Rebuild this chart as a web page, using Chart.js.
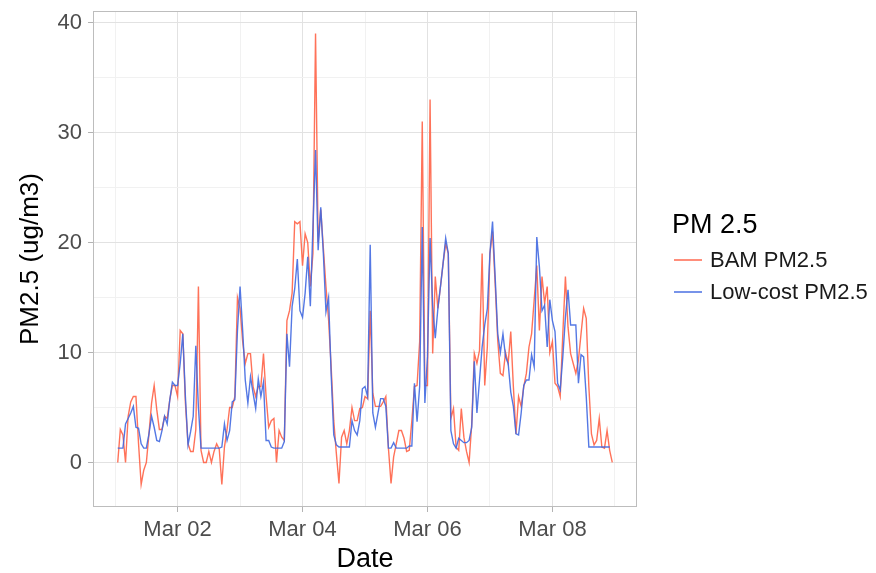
<!DOCTYPE html>
<html>
<head>
<meta charset="utf-8">
<script src="https://cdn.jsdelivr.net/npm/chart.js@4.4.1/dist/chart.umd.min.js"></script>
<style>
  html, body { margin: 0; padding: 0; background: #fff; }
  canvas { display: block; }
</style>
</head>
<body>
<canvas id="chart" width="876" height="573"></canvas>
<script>
// hourly readings, first one at Mar 01 01:00 (x = hours since Mar 01 00:00)
const firstHour = 1

const bamPM25 = [
  0, 3, 2.5, 0, 4.2, 5.5, 6, 6, 1.7, -2,
  -0.7, 0, 2.6, 5.4, 7, 4.8, 3, 3, 4.2, 4,
  5.7, 7, 7, 6, 12, 11.7, 5.4, 1.7, 1, 1,
  3, 16, 1.1, 0, 0, 1, 0, 1, 1.7, 1.2,
  -2, 1.4, 3, 5, 5, 6, 15, 14, 11, 9,
  9.9, 9.9, 6.9, 6, 6.9, 6.9, 9.9, 6, 3.2, 3.8,
  4, 0, 2.9, 2.3, 2, 12.9, 13.8, 15.4, 21.9, 21.7,
  21.9, 17.9, 20.8, 20, 16, 19, 39, 20, 23, 19.5,
  16, 13, 8.7, 3.8, 0.8, -1.9, 2.3, 2.9, 1.7, 2.9,
  5, 3.8, 3.8, 4.9, 5, 6, 5.8, 13.8, 6.3, 5.1,
  5.1, 5.1, 5.5, 6, 1.3, -1.9, 0.5, 1.7, 2.9, 2.9,
  2.2, 1, 1.1, 3.8, 6.9, 7, 11, 31, 7, 7,
  33, 9.9, 16.9, 14, 16, 18.1, 19.9, 19, 4, 4.9,
  1.4, 1.1, 4.9, 2.3, 1, 0, 3.5, 9.9, 9, 10.2,
  19, 7, 10.5, 19, 21, 16.3, 11.1, 8.1, 7.9, 10,
  9, 11.9, 6.9, 2.6, 6, 5.1, 6.9, 8.1, 10.5, 11.7,
  14.8, 17.9, 12, 16.9, 14.5, 16, 10, 11, 7.2, 6.9,
  6, 11.7, 16.9, 12.3, 9.9, 9, 8.1, 9.3, 11.7, 14,
  13.1, 6.9, 2.6, 1.6, 2, 4, 1.4, 1.3, 2.9, 1.1, 0
]

const lowCostPM25 = [
  1.3, 1.3, 1.3, 3.5, 4, 4.5, 5.1, 3.2, 3.1, 1.7,
  1.3, 1.3, 2.6, 4.2, 3.2, 2, 1.9, 2.9, 4.2, 3.5,
  5.7, 7.3, 7, 7, 9, 11.7, 6, 1.6, 2.8, 4.2,
  10.6, 5, 1.3, 1.3, 1.3, 1.3, 1.3, 1.3, 1.3, 1.3,
  1.4, 3.5, 2, 2.9, 5.5, 5.7, 12, 16, 12, 7.5,
  5.4, 7.8, 6.3, 4.9, 7.6, 6, 7.3, 2, 2, 1.4,
  1.3, 1.3, 1.3, 1.3, 1.9, 11.7, 8.7, 14.2, 15.8, 18.5,
  13.8, 13.2, 15.4, 18.7, 14.2, 21.4, 28.4, 19.3, 23.2, 19,
  13.7, 15, 8, 2.5, 1.6, 1.4, 1.4, 1.4, 1.4, 1.4,
  3.8, 2.9, 2.5, 3.8, 6.7, 6.9, 6, 19.8, 4.5, 3.2,
  4.5, 5.8, 5.8, 5.1, 1.3, 1.3, 1.8, 1.3, 1.3, 1.3,
  1.3, 1.3, 1.5, 1.5, 7.2, 3.7, 6.9, 21.4, 5.4, 9.6,
  20.4, 14.2, 11.3, 14, 16, 18.1, 20.4, 19, 2.9, 1.7,
  1.3, 2.2, 2, 1.8, 1.8, 2, 3.2, 9.2, 4.5, 7.5,
  10.5, 12.5, 14, 19, 21.9, 16.9, 11.7, 10, 11.7, 9.6,
  9, 6.4, 5.1, 2.6, 2.5, 4.5, 7, 7.5, 7.5, 9.8,
  8.7, 20.5, 17.8, 13.8, 14.3, 10.5, 14.8, 12.9, 11.9, 7.2,
  6.6, 9.6, 13.2, 15.7, 12.5, 12.5, 12.5, 7.2, 9.8, 9.6,
  6, 1.4, 1.4, 1.4, 1.4, 1.4, 1.4, 1.4, 1.4, 1.4
]

const seriesNames = ['BAM PM2.5', 'Low-cost PM2.5']
const seriesColors = ['rgba(255,99,71,0.9)', 'rgba(65,105,225,0.9)']
const legendTitle = 'PM 2.5'

// x grid: a line every day, labels on every second day
const dayHours = [0, 24, 48, 72, 96, 120, 144, 168, 192]
const dateTickHours = [24, 72, 120, 168]
const dateTickLabels = ['Mar 02', 'Mar 04', 'Mar 06', 'Mar 08']
// y grid: line every 5, labels every 10
const yGridValues = [0, 5, 10, 15, 20, 25, 30, 35, 40]
const yTickValues = [0, 10, 20, 30, 40]

const FONT = '"Liberation Sans", Arial, Helvetica, sans-serif'
const MAJOR = '#e2e2e2'
const MINOR = '#f1f1f1'
const TICK = '#b3b3b3'

const toPoints = arr => arr.map((v, i) => ({x: firstHour + i, y: v}))

const panelBorder = {
  id: 'panelBorder',
  afterDraw(chart) {
    const {ctx, chartArea: a} = chart
    ctx.save()
    ctx.strokeStyle = '#bdbdbd'
    ctx.lineWidth = 1
    ctx.strokeRect(a.left + 0.5, a.top + 0.5, a.right - a.left - 1, a.bottom - a.top - 1)
    ctx.restore()
  }
}

const sideLegend = {
  id: 'sideLegend',
  afterDraw(chart) {
    const ctx = chart.ctx
    ctx.save()
    ctx.fillStyle = '#000'
    ctx.font = `27px ${FONT}`
    ctx.textBaseline = 'alphabetic'
    ctx.fillText(legendTitle, 672, 233)
    ctx.font = `22px ${FONT}`
    ctx.textBaseline = 'middle'
    seriesNames.forEach((name, i) => {
      const y = 260 + i * 32
      ctx.strokeStyle = seriesColors[i]
      ctx.lineWidth = 1.6
      ctx.beginPath()
      ctx.moveTo(674, y)
      ctx.lineTo(702, y)
      ctx.stroke()
      ctx.fillStyle = '#1a1a1a'
      ctx.fillText(name, 710, y + 1)
    })
    ctx.restore()
  }
}

const chart = new Chart(document.getElementById('chart'), {
  type: 'line',
  data: {
    datasets: [
      {
        label: seriesNames[0],
        data: toPoints(bamPM25),
        borderColor: seriesColors[0],
        borderWidth: 1.4,
        pointRadius: 0,
        tension: 0,
        order: 2
      },
      {
        label: seriesNames[1],
        data: toPoints(lowCostPM25),
        borderColor: seriesColors[1],
        borderWidth: 1.4,
        pointRadius: 0,
        tension: 0,
        order: 1
      }
    ]
  },
  options: {
    responsive: false,
    animation: false,
    parsing: false,
    layout: { padding: { left: 0, right: 239, top: 11, bottom: 0 } },
    plugins: { legend: { display: false }, tooltip: { enabled: false } },
    scales: {
      x: {
        type: 'linear',
        min: -8.5,
        max: 200.5,
        afterBuildTicks: s => { s.ticks = dayHours.map(v => ({value: v})) },
        afterFit: s => { s.height = 66; s.paddingLeft = 0; s.paddingRight = 0 },
        ticks: {
          autoSkip: false,
          maxRotation: 0,
          padding: 5,
          color: '#4d4d4d',
          font: { size: 22, family: FONT },
          callback: v => {
            const k = dateTickHours.indexOf(v)
            return k >= 0 ? dateTickLabels[k] : ''
          }
        },
        grid: {
          color: c => dateTickHours.includes(c.tick.value) ? MAJOR : MINOR,
          tickColor: c => dateTickHours.includes(c.tick.value) ? TICK : 'rgba(0,0,0,0)',
          tickLength: 5,
          lineWidth: 1
        },
        border: { display: false },
        title: {
          display: true,
          text: 'Date',
          color: '#000',
          font: { size: 27, family: FONT, lineHeight: 1 },
          padding: { top: 0, bottom: 0 }
        }
      },
      y: {
        type: 'linear',
        min: -4.05,
        max: 41.05,
        afterBuildTicks: s => { s.ticks = yGridValues.map(v => ({value: v})) },
        afterFit: s => { s.width = 93; s.paddingTop = 0; s.paddingBottom = 0 },
        ticks: {
          padding: 6,
          color: '#4d4d4d',
          font: { size: 22, family: FONT },
          callback: v => yTickValues.includes(v) ? String(v) : ''
        },
        grid: {
          color: c => yTickValues.includes(c.tick.value) ? MAJOR : MINOR,
          tickColor: c => yTickValues.includes(c.tick.value) ? TICK : 'rgba(0,0,0,0)',
          tickLength: 5,
          lineWidth: 1
        },
        border: { display: false },
        title: {
          display: true,
          text: 'PM2.5 (ug/m3)',
          color: '#000',
          font: { size: 26, family: FONT, lineHeight: 1 },
          padding: { top: 18, bottom: 0 }
        }
      }
    }
  },
  plugins: [panelBorder, sideLegend]
})
</script>
</body>
</html>
